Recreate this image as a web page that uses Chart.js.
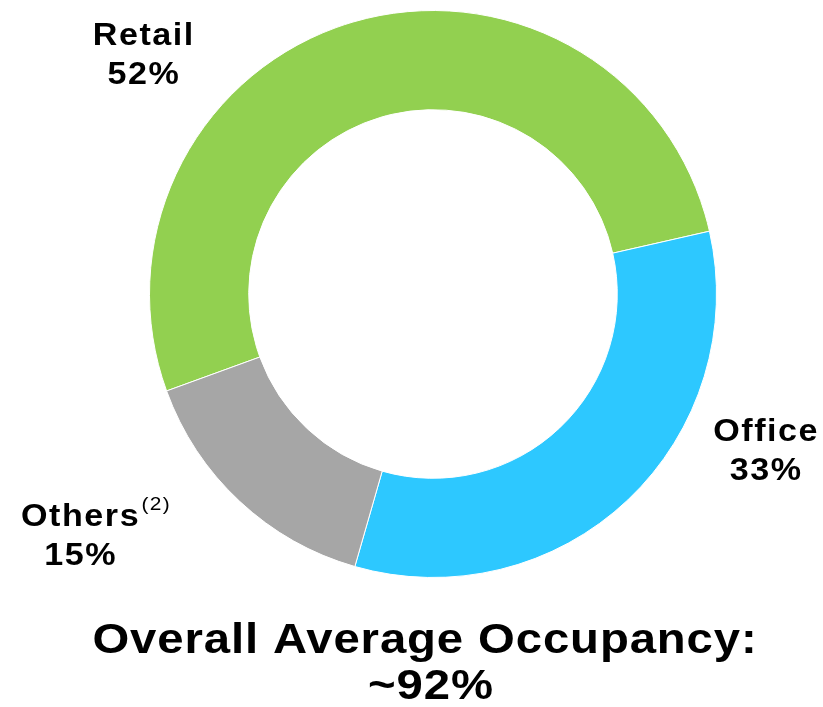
<!DOCTYPE html>
<html>
<head>
<meta charset="utf-8">
<title>Occupancy by asset type</title>
<script src="https://cdn.jsdelivr.net/npm/chart.js@4/dist/chart.umd.min.js"></script>
<style>
    html, body { margin: 0; padding: 0; background: #fff; }
    #wrap { width: 823px; height: 707px; }
</style>
</head>
<body>
<div id="wrap"><canvas id="occChart" width="823" height="707"></canvas></div>
<script>
// Datos del gráfico
const categorias = ['Retail', 'Office', 'Others'];
const porcentajes = [52, 33, 15];
const notas = ['', '', '(2)'];
const colores = ['#92D050', '#2DC8FF', '#A6A6A6'];
const tituloLineas = ['Overall Average Occupancy:', '~92%'];

// Posición de cada etiqueta respecto al centro del anillo (en radios)
const posEtiquetas = [
    { dx: -1.02, dy: -0.878 },
    { dx: 1.175, dy: 0.518 },
    { dx: -1.243, dy: 0.817 }
];

const FUENTE = '"Liberation Sans", Arial, sans-serif';
const ESTIRAR = 1.1; // el texto original está algo ensanchado

// Escribe texto ensanchado horizontalmente; devuelve el ancho final
function texto(ctx, str, x, y, font, spacing, align) {
    ctx.save();
    ctx.font = font;
    ctx.letterSpacing = spacing + 'px';
    ctx.textAlign = align;
    ctx.translate(x, y);
    ctx.scale(ESTIRAR, 1);
    ctx.fillText(str, 0, 0);
    const w = (ctx.measureText(str).width - spacing) * ESTIRAR;
    ctx.restore();
    return w;
}

// Plugin para dibujar etiquetas y título
const etiquetasPlugin = {
    id: 'etiquetas',
    afterDraw(chart) {
        const ctx = chart.ctx;
        const arc = chart.getDatasetMeta(0).data[0];
        const cx = arc.x, cy = arc.y, r = arc.outerRadius;

        ctx.save();
        ctx.fillStyle = '#000';
        ctx.textBaseline = 'alphabetic';

        categorias.forEach(function(cat, i) {
            const x = cx + posEtiquetas[i].dx * r;
            const y = cy + posEtiquetas[i].dy * r;
            const fuenteEtq = 'bold 31px ' + FUENTE;
            const w = texto(ctx, cat, x, y, fuenteEtq, 1.4, 'center');
            texto(ctx, porcentajes[i] + '%', x, y + 39, fuenteEtq, 1.4, 'center');
            if (notas[i]) {
                // superíndice tras el nombre
                texto(ctx, notas[i], x + w / 2 + 2, y - 16, '19px ' + FUENTE, 1.2, 'left');
            }
        });

        // Título inferior
        const fuenteTit = 'bold 43px ' + FUENTE;
        texto(ctx, tituloLineas[0], 425, 653, fuenteTit, 0.8, 'center');
        texto(ctx, tituloLineas[1], 431, 699, fuenteTit, 0.8, 'center');
        ctx.restore();
    }
};

const ctx = document.getElementById('occChart');
new Chart(ctx, {
    type: 'doughnut',
    data: {
        labels: categorias,
        datasets: [{
            data: porcentajes,
            backgroundColor: colores,
            borderColor: '#ffffff',
            borderWidth: 1
        }]
    },
    options: {
        responsive: false,
        animation: false,
        cutout: '65%',
        rotation: -110,
        layout: {
            padding: { left: 149, right: 106, top: 10, bottom: 129 }
        },
        plugins: {
            legend: { display: false },
            tooltip: { enabled: false },
            title: { display: false }
        }
    },
    plugins: [etiquetasPlugin]
});
</script>
</body>
</html>
